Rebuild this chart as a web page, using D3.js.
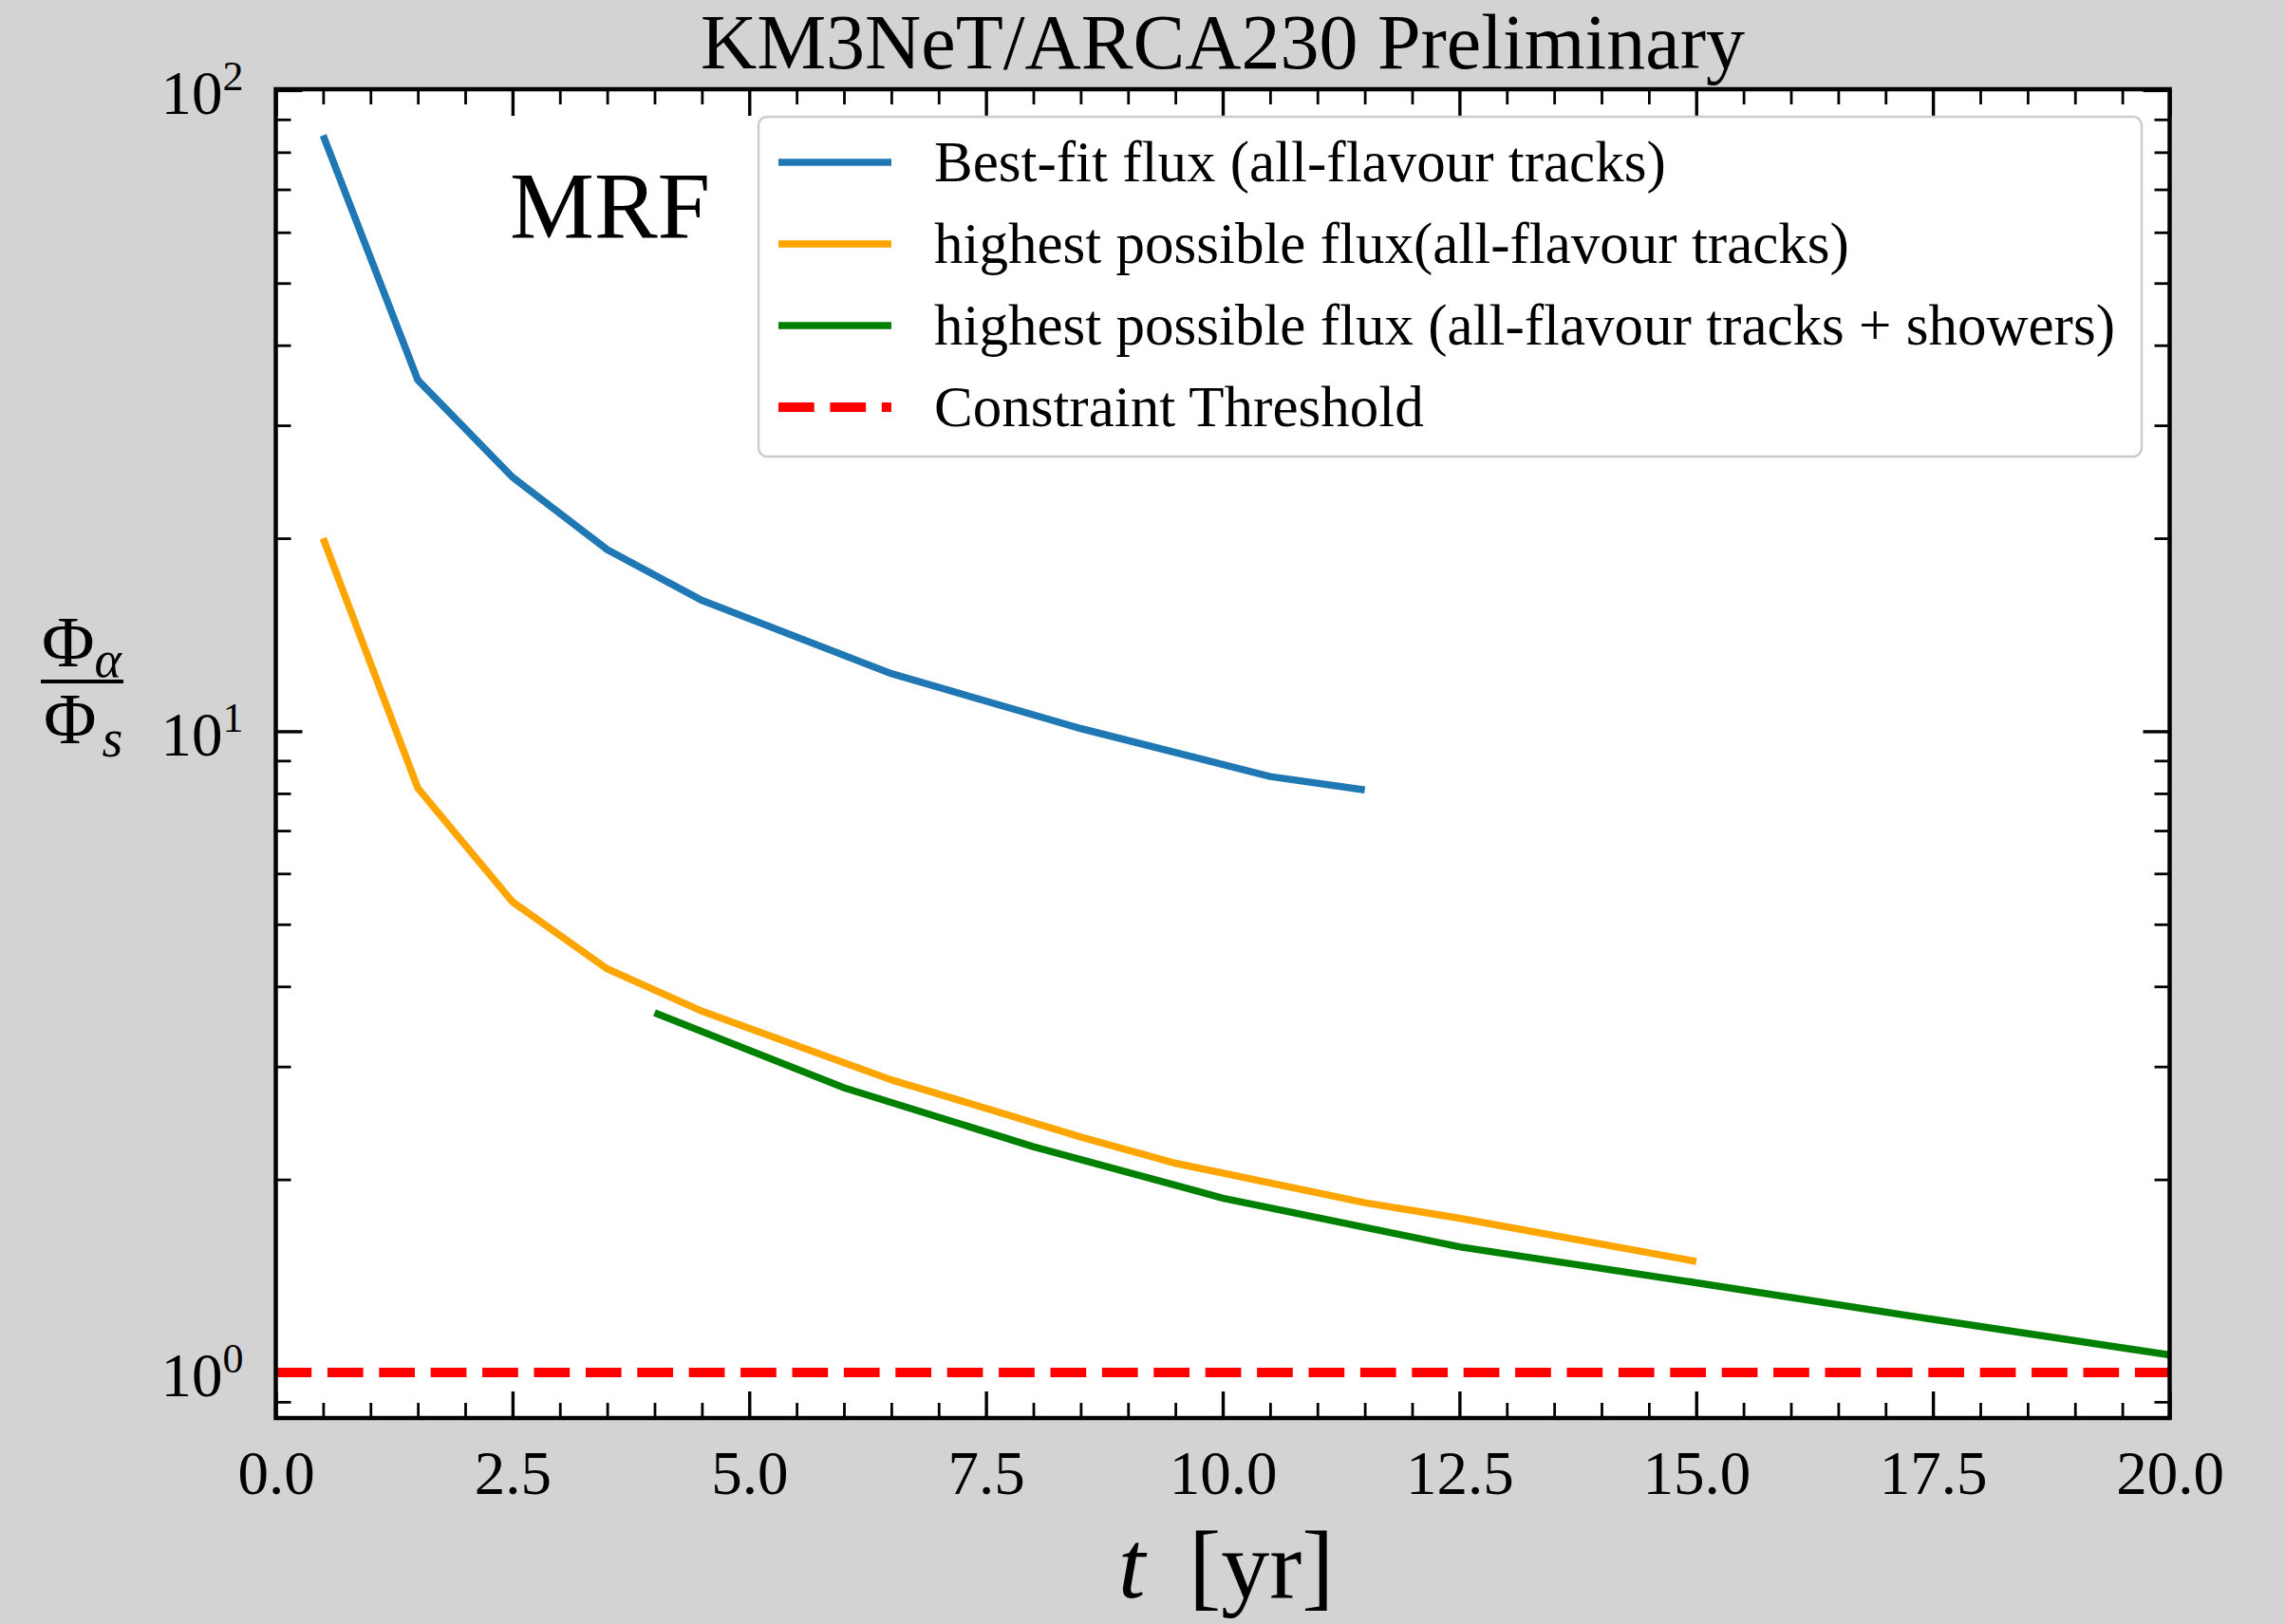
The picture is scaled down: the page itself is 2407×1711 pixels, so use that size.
<!DOCTYPE html>
<html>
<head>
<meta charset="utf-8">
<script src="https://cdn.jsdelivr.net/npm/d3@7"></script>
<style>
    body { margin: 0; background: #d3d3d3; }
    text { font-family: "Liberation Serif", "Times New Roman", serif; fill: #000; }
</style>
</head>
<body>
<script>
//Global variables
const width = 2407;
const height = 1711;
const plotLeft = 290.5;
const plotRight = 2285.5;
const plotTop = 94;
const plotBottom = 1494;

//Data
const bestFitT = [0.5, 1.5, 2.5, 3.5, 4.5, 6.5, 8.5, 10.5, 11.5];
const bestFitV = [85, 35.3, 24.9, 19.2, 16.0, 12.3, 10.1, 8.5, 8.1];

const tracksT = [0.5, 1.5, 2.5, 3.5, 4.5, 6.5, 8.5, 9.5, 11.5, 12.5, 15];
const tracksV = [20, 8.15, 5.42, 4.26, 3.66, 2.86, 2.33, 2.12, 1.84, 1.74, 1.49];

const showersT = [4, 6, 8, 10, 12.5, 15, 17.5, 20];
const showersV = [3.64, 2.78, 2.25, 1.87, 1.57, 1.38, 1.21, 1.065];

const thresholdT = [0, 20];
const thresholdV = [1, 1];

const legendLabels = [
    "Best-fit flux (all-flavour tracks)",
    "highest possible flux(all-flavour tracks)",
    "highest possible flux (all-flavour tracks + showers)",
    "Constraint Threshold"
];
const legendColors = ["#1f77b4", "orange", "green", "red"];

const xTicks = [0, 2.5, 5, 7.5, 10, 12.5, 15, 17.5, 20];
const yTicks = [1, 10, 100];
const yExponents = ["0", "1", "2"];

//SVG element
const svg = d3.select("body")
    .append("svg")
    .attr("width", width)
    .attr("height", height);

svg.append("rect")
    .attr("width", width)
    .attr("height", height)
    .attr("fill", "#d3d3d3");

//Scales
const x = d3.scaleLinear()
    .domain([0, 20])
    .range([plotLeft, plotRight]);
const y = d3.scaleLog()
    .domain([0.849, 100.3])
    .range([plotBottom, plotTop]);

//Plot background + clip
svg.append("rect")
    .attr("x", plotLeft)
    .attr("y", plotTop)
    .attr("width", plotRight - plotLeft)
    .attr("height", plotBottom - plotTop)
    .attr("fill", "white");

svg.append("clipPath")
    .attr("id", "clip")
    .append("rect")
    .attr("x", plotLeft)
    .attr("y", plotTop)
    .attr("width", plotRight - plotLeft)
    .attr("height", plotBottom - plotTop);

//Minor tick values
const xMinor = d3.range(0, 20.01, 0.5).filter(v => !xTicks.includes(v));
const yMinor = [];
[0.1, 1, 10].forEach(dec => {
    for (let k = 2; k <= 9; k++) {
        const v = dec * k;
        if (v >= 0.849 && v <= 100.3) yMinor.push(v);
    }
});

//Axes, ticks pointing inward on all four sides
function drawTicks(axisFn, scale, values, size, tx, ty, sw) {
    const g = svg.append("g")
        .attr("transform", `translate(${tx},${ty})`)
        .call(axisFn(scale).tickValues(values).tickSizeInner(-size).tickSizeOuter(0).tickFormat(""));
    g.select(".domain").remove();
    g.selectAll("line").attr("stroke", "black").attr("stroke-width", sw);
    return g;
}

drawTicks(d3.axisBottom, x, xMinor, 16, 0, plotBottom, 2.8);
drawTicks(d3.axisTop, x, xMinor, 16, 0, plotTop, 2.8);
drawTicks(d3.axisLeft, y, yMinor, 16, plotLeft, 0, 2.8);
drawTicks(d3.axisRight, y, yMinor, 16, plotRight, 0, 2.8);
drawTicks(d3.axisTop, x, xTicks, 28, 0, plotTop, 3.4);
drawTicks(d3.axisRight, y, yTicks, 28, plotRight, 0, 3.4);

//Bottom axis with labels
const xAxis = svg.append("g")
    .attr("transform", `translate(0,${plotBottom})`)
    .call(d3.axisBottom(x).tickValues(xTicks).tickSizeInner(-28).tickSizeOuter(0)
        .tickPadding(34).tickFormat(d3.format(".1f")));
xAxis.select(".domain").remove();
xAxis.selectAll("line").attr("stroke", "black").attr("stroke-width", 3.4);
xAxis.selectAll("text")
    .attr("font-size", 65)
    .attr("font-family", "Liberation Serif, serif")
    .attr("fill", "black");

//Left axis with 10^n labels
const yAxis = svg.append("g")
    .attr("transform", `translate(${plotLeft},0)`)
    .call(d3.axisLeft(y).tickValues(yTicks).tickSizeInner(-28).tickSizeOuter(0)
        .tickPadding(34).tickFormat(""));
yAxis.select(".domain").remove();
yAxis.selectAll("line").attr("stroke", "black").attr("stroke-width", 3.4);
yAxis.selectAll(".tick text")
    .attr("font-size", 65)
    .attr("font-family", "Liberation Serif, serif")
    .attr("fill", "black")
    .attr("dy", 25)
    .each(function(d, i) {
        const t = d3.select(this);
        t.append("tspan").text("10");
        t.append("tspan")
            .attr("font-size", 44)
            .attr("dy", -25)
            .text(yExponents[i]);
    });

//Lines
const line = d3.line()
    .x(d => x(d[0]))
    .y(d => y(d[1]));

const series = [
    {t: bestFitT, v: bestFitV, color: legendColors[0], dash: null, w: 7.5},
    {t: tracksT, v: tracksV, color: legendColors[1], dash: null, w: 7.5},
    {t: showersT, v: showersV, color: legendColors[2], dash: null, w: 7.5},
    {t: thresholdT, v: thresholdV, color: legendColors[3], dash: "37.7,16.7", w: 10}
];

const lines = svg.append("g").attr("clip-path", "url(#clip)");
series.forEach(s => {
    lines.append("path")
        .datum(s.t.map((t, i) => [t, s.v[i]]))
        .attr("d", line)
        .attr("fill", "none")
        .attr("stroke", s.color)
        .attr("stroke-width", s.w)
        .attr("stroke-dasharray", s.dash);
});

//Frame
svg.append("rect")
    .attr("x", plotLeft)
    .attr("y", plotTop)
    .attr("width", plotRight - plotLeft)
    .attr("height", plotBottom - plotTop)
    .attr("fill", "none")
    .attr("stroke", "black")
    .attr("stroke-width", 4.5);

//Legend
const legend = svg.append("g");
legend.append("rect")
    .attr("x", 799)
    .attr("y", 123)
    .attr("width", 1457)
    .attr("height", 358)
    .attr("rx", 9)
    .attr("fill", "white")
    .attr("fill-opacity", 0.8)
    .attr("stroke", "#cccccc")
    .attr("stroke-width", 2.5);

legendLabels.forEach((label, i) => {
    const rowY = 171 + i * 86;
    legend.append("line")
        .attr("x1", 820)
        .attr("x2", 939)
        .attr("y1", rowY)
        .attr("y2", rowY)
        .attr("stroke", legendColors[i])
        .attr("stroke-width", series[i].w)
        .attr("stroke-dasharray", series[i].dash);
    legend.append("text")
        .attr("x", 984)
        .attr("y", rowY + 20)
        .attr("font-size", 61)
        .text(label);
});

//MRF tag
svg.append("text")
    .attr("x", 537)
    .attr("y", 250)
    .attr("font-size", 100)
    .text("MRF");

//Title
svg.append("text")
    .attr("x", (plotLeft + plotRight) / 2)
    .attr("y", 72)
    .attr("text-anchor", "middle")
    .attr("font-size", 82)
    .text("KM3NeT/ARCA230 Preliminary");

//X label
const xLabel = svg.append("text")
    .attr("x", 1178)
    .attr("y", 1683)
    .attr("font-size", 102);
xLabel.append("tspan").attr("font-style", "italic").text("t");
xLabel.append("tspan").attr("dx", 46).text("[yr]");

//Y label as a fraction
const yLabel = svg.append("g");
yLabel.append("text")
    .attr("x", 44)
    .attr("y", 702)
    .attr("font-size", 76)
    .text("\u03A6")
    .append("tspan")
    .attr("font-size", 54)
    .attr("font-style", "italic")
    .attr("dy", 11)
    .text("\u03B1");
yLabel.append("line")
    .attr("x1", 43)
    .attr("x2", 130)
    .attr("y1", 718)
    .attr("y2", 718)
    .attr("stroke", "black")
    .attr("stroke-width", 4);
yLabel.append("text")
    .attr("x", 46)
    .attr("y", 783)
    .attr("font-size", 76)
    .text("\u03A6")
    .append("tspan")
    .attr("font-size", 56)
    .attr("font-style", "italic")
    .attr("dy", 14)
    .attr("dx", 6)
    .text("s");
</script>
</body>
</html>
